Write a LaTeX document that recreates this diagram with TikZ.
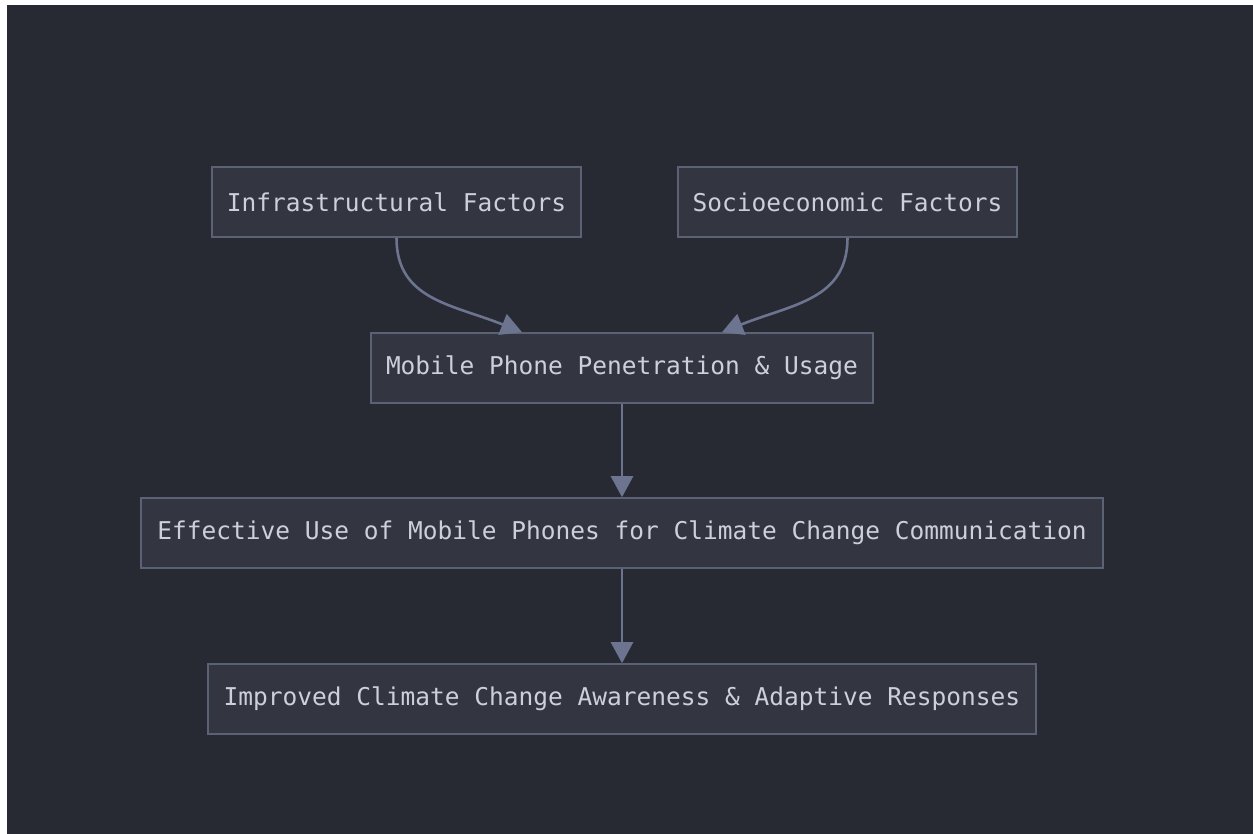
\documentclass[tikz,border=0pt]{standalone}
\usepackage{fontspec}
\setmonofont{DejaVu Sans Mono}
\usetikzlibrary{arrows.meta,calc}
\definecolor{canvas}{HTML}{282A33}
\definecolor{boxfill}{HTML}{333641}
\definecolor{boxline}{HTML}{5B6276}
\definecolor{label}{HTML}{CCD0D8}
\definecolor{link}{HTML}{6C7490}
\begin{document}
\begin{tikzpicture}[x=1pt,y=-1pt,
  stepbox/.style={draw=boxline, line width=1.6pt, fill=boxfill,
    minimum height=70pt, inner sep=0pt, text=label,
    font=\ttfamily\fontsize{24.5pt}{28pt}\selectfont},
  flow/.style={draw=link, line width=2.6pt,
    -{Triangle[length=21pt,width=22pt]}}]
  % page and dark canvas
  \useasboundingbox (0,0) rectangle (1253,834);
  \fill[white] (0,0) rectangle (1253,834);
  \fill[canvas] (7,5) rectangle (1253,834);

  % boxes
  \node[stepbox, minimum width=369pt] (infra) at (396.5,202) {Infrastructural Factors};
  \node[stepbox, minimum width=339pt] (socio) at (847.5,202) {Socioeconomic Factors};
  \node[stepbox, minimum width=502pt] (mobile) at (622,368) {Mobile Phone Penetration \& Usage};
  \node[stepbox, minimum width=962pt] (effective) at (622,533) {Effective Use of Mobile Phones for Climate Change Communication};
  \node[stepbox, minimum width=828pt] (improved) at (622,699) {Improved Climate Change Awareness \& Adaptive Responses};

  % arrow end points on the top edge of the middle box
  \coordinate (inL) at (mobile.north -| 522,0);
  \coordinate (inR) at (mobile.north -| 722,0);

  % connectors
  \draw[flow] (infra.south) .. controls ($(infra.south)+(0,62)$) and ($(inL)+(-70,-28)$) .. (inL);
  \draw[flow] (socio.south) .. controls ($(socio.south)+(0,62)$) and ($(inR)+(70,-28)$) .. (inR);
  \draw[flow] (mobile.south) -- (effective.north);
  \draw[flow] (effective.south) -- (improved.north);
\end{tikzpicture}
\end{document}
